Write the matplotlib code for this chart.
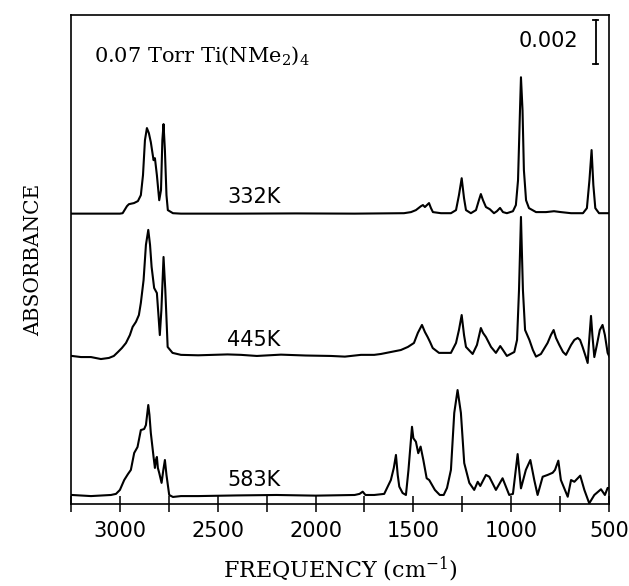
import matplotlib
matplotlib.use("Agg")
import matplotlib.pyplot as plt
import numpy as np

plt.rcParams["mathtext.fontset"] = "dejavuserif"

# ---- data (frequency in cm^-1, absorbance in units of 1e-3) ----
f_332 = [3245, 3000, 2986, 2964, 2954, 2928, 2908, 2893, 2882, 2872, 2862, 2852, 2842,
         2828, 2821, 2811, 2799, 2790, 2783, 2777, 2770, 2762, 2755, 2729, 2688,
         2400, 2100, 1800, 1548, 1512, 1487, 1461, 1451, 1441, 1420, 1410, 1400, 1359,
         1308, 1282, 1267, 1253, 1241, 1231, 1206, 1180, 1165, 1155, 1144, 1129, 1109,
         1088, 1073, 1057, 1042, 1022, 991, 976, 965, 955, 950, 942, 935, 924, 909,
         873, 822, 781, 746, 694, 633, 613, 600, 589, 580, 570, 551, 495]
a_332 = [0.0, 0.0, 0.02, 0.34, 0.43, 0.48, 0.57, 0.84, 1.75, 3.34, 3.89, 3.66, 3.25,
         2.43, 2.52, 1.75, 0.61, 1.07, 3.34, 4.07, 2.89, 0.84, 0.16, 0.02, 0.0,
         0.0, 0.01, 0.0, 0.02, 0.07, 0.16, 0.34, 0.39, 0.30, 0.48, 0.25, 0.07, 0.02,
         0.02, 0.16, 0.84, 1.61, 0.70, 0.16, 0.02, 0.16, 0.61, 0.89, 0.61, 0.30, 0.20,
         0.02, 0.11, 0.26, 0.07, 0.02, 0.11, 0.39, 1.52, 4.70, 6.20, 4.70, 1.98, 0.61, 0.25,
         0.07, 0.07, 0.11, 0.07, 0.02, 0.02, 0.25, 1.52, 2.89, 1.30, 0.25, 0.02, 0.02]

f_445 = [3245, 3199, 3148, 3097, 3056, 3031, 3010, 2990, 2969, 2949, 2935, 2918, 2903,
         2893, 2879, 2867, 2855, 2846, 2838, 2825, 2811, 2803, 2796, 2788, 2777, 2768,
         2756, 2731, 2688, 2600, 2450, 2381, 2300, 2177, 2050, 1921, 1850, 1768, 1700,
         1666, 1615, 1564, 1528, 1497, 1477, 1456, 1441, 1427, 1415, 1401, 1369, 1308,
         1282, 1267, 1253, 1241, 1231, 1197, 1175, 1155, 1144, 1129, 1103, 1078, 1056,
         1042, 1022, 984, 970, 960, 950, 940, 929, 907, 889, 873, 848, 814, 797, 783,
         771, 754, 735, 720, 694, 677, 660, 648, 635, 620, 609, 603, 592, 585, 575,
         562, 547, 533, 521, 507, 495]
a_445 = [0.0, -0.05, -0.05, -0.14, -0.09, 0.0, 0.18, 0.36, 0.59, 0.95, 1.32, 1.55, 1.86,
         2.41, 3.45, 5.05, 5.73, 5.05, 4.05, 3.09, 2.86, 1.86, 0.95, 2.09, 4.50, 3.00,
         0.41, 0.14, 0.05, 0.03, 0.07, 0.05, 0.0, 0.06, 0.02, 0.0, -0.03, 0.05, 0.05,
         0.09, 0.18, 0.27, 0.41, 0.59, 1.05, 1.41, 1.09, 0.86, 0.64, 0.36, 0.14, 0.14,
         0.59, 1.18, 1.86, 0.95, 0.41, 0.09, 0.50, 1.27, 1.05, 0.86, 0.41, 0.14, 0.45,
         0.27, 0.0, 0.18, 0.73, 3.00, 6.32, 3.00, 1.18, 0.73, 0.27, -0.03, 0.09, 0.59, 0.95, 1.18,
         0.82, 0.50, 0.18, 0.05, 0.50, 0.73, 0.82, 0.73, 0.41, 0.0, -0.32, 0.50, 1.82, 0.95, -0.05,
         0.50, 1.18, 1.41, 0.95, 0.14, -0.09]

f_583 = [3245, 3148, 3046, 3020, 3000, 2978, 2959, 2944, 2927, 2910, 2893, 2876, 2867,
         2855, 2849, 2842, 2828, 2821, 2816, 2811, 2806, 2799, 2787, 2778, 2770, 2762,
         2748, 2729, 2688, 2600, 2400, 2200, 2000, 1800, 1775, 1759, 1745, 1700, 1649,
         1615, 1600, 1589, 1580, 1572, 1555, 1538, 1525, 1507, 1500, 1487, 1475, 1463,
         1449, 1432, 1419, 1390, 1365, 1345, 1328, 1308, 1291, 1274, 1257, 1240, 1214,
         1189, 1171, 1158, 1129, 1112, 1078, 1044, 1010, 991, 967, 950, 925, 902, 882,
         865, 839, 814, 788, 776, 759, 746, 711, 694, 677, 647, 626, 601, 575, 541,
         521, 507, 495]
a_583 = [0.0, -0.05, 0.0, 0.05, 0.23, 0.68, 0.95, 1.14, 1.91, 2.18, 2.95, 3.00, 3.18,
         4.09, 3.64, 2.82, 1.73, 1.23, 1.59, 1.73, 1.23, 1.00, 0.55, 1.14, 1.59, 0.91,
         0.0, -0.09, -0.05, -0.05, -0.02, 0.0, -0.03, 0.0, 0.05, 0.15, 0.0, 0.0, 0.05,
         0.68, 1.23, 1.82, 0.91, 0.38, 0.09, 0.0, 1.14, 3.10, 2.58, 2.42, 1.90, 2.20,
         1.59, 0.76, 0.68, 0.23, 0.0, 0.0, 0.32, 1.14, 3.73, 4.77, 3.73, 1.45, 0.55,
         0.23, 0.60, 0.41, 0.91, 0.83, 0.23, 0.76, 0.0, 0.05, 1.86, 0.30, 1.14, 1.59, 0.68,
         0.0, 0.83, 0.91, 1.01, 1.14, 1.56, 0.68, -0.08, 0.68, 0.60, 0.88, 0.23, -0.38, 0.0, 0.26,
         0.0, 0.32, 0.30]

spectra = [("332K", f_332, a_332, 13.2), ("445K", f_445, a_445, 6.73), ("583K", f_583, a_583, 0.41)]
label_y = {"332K": 13.95, "445K": 7.45, "583K": 1.09}

xticks_major = [3000, 2500, 2000, 1500, 1000, 500]
xticks_minor = [3250, 2750, 2250, 1750, 1250, 750]
scale_bar = 2.0  # 0.002 absorbance

fig = plt.figure(figsize=(6.29, 5.86), dpi=100)
ax = fig.add_axes([71/629, 1-504/586, (609-71)/629, (504-15)/586])

for name, f, a, off in spectra:
    ax.plot(f, np.array(a) + off, color="black", lw=1.5)
    ax.text(2315, label_y[name], name, ha="center", va="center",
            fontsize=15, family="DejaVu Sans")

ax.set_xlim(3250, 500)
ax.set_ylim(0, 22.23)
ax.set_xticks(xticks_major)
ax.set_xticks(xticks_minor, minor=True)
ax.set_xticklabels([str(t) for t in xticks_major], fontsize=15, family="DejaVu Sans")
ax.tick_params(axis="x", which="both", direction="inout", length=12, width=1.1,
               top=False, pad=6)
ax.set_yticks([])
for s in ax.spines.values():
    s.set_linewidth(1.2)

# scale bar
ax.plot([567, 567], [20.0, 20.0 + scale_bar], color="black", lw=1.3)
ax.plot([580, 554], [20.0, 20.0], color="black", lw=1.3)
ax.plot([580, 554], [20.0 + scale_bar, 20.0 + scale_bar], color="black", lw=1.3)
ax.text(659, 21.05, "0.002", ha="right", va="center", fontsize=15, family="DejaVu Sans")

ax.text(3133, 20.1, r"0.07 Torr Ti(NMe$_2$)$_4$", ha="left", va="baseline",
        fontsize=15, family="DejaVu Serif")

ax.set_ylabel("ABSORBANCE", fontsize=14.5, family="DejaVu Serif", labelpad=20)
ax.set_xlabel(r"FREQUENCY (cm$^{-1}$)", fontsize=16, family="DejaVu Serif", labelpad=10)

fig.savefig("out.png", dpi=100)
